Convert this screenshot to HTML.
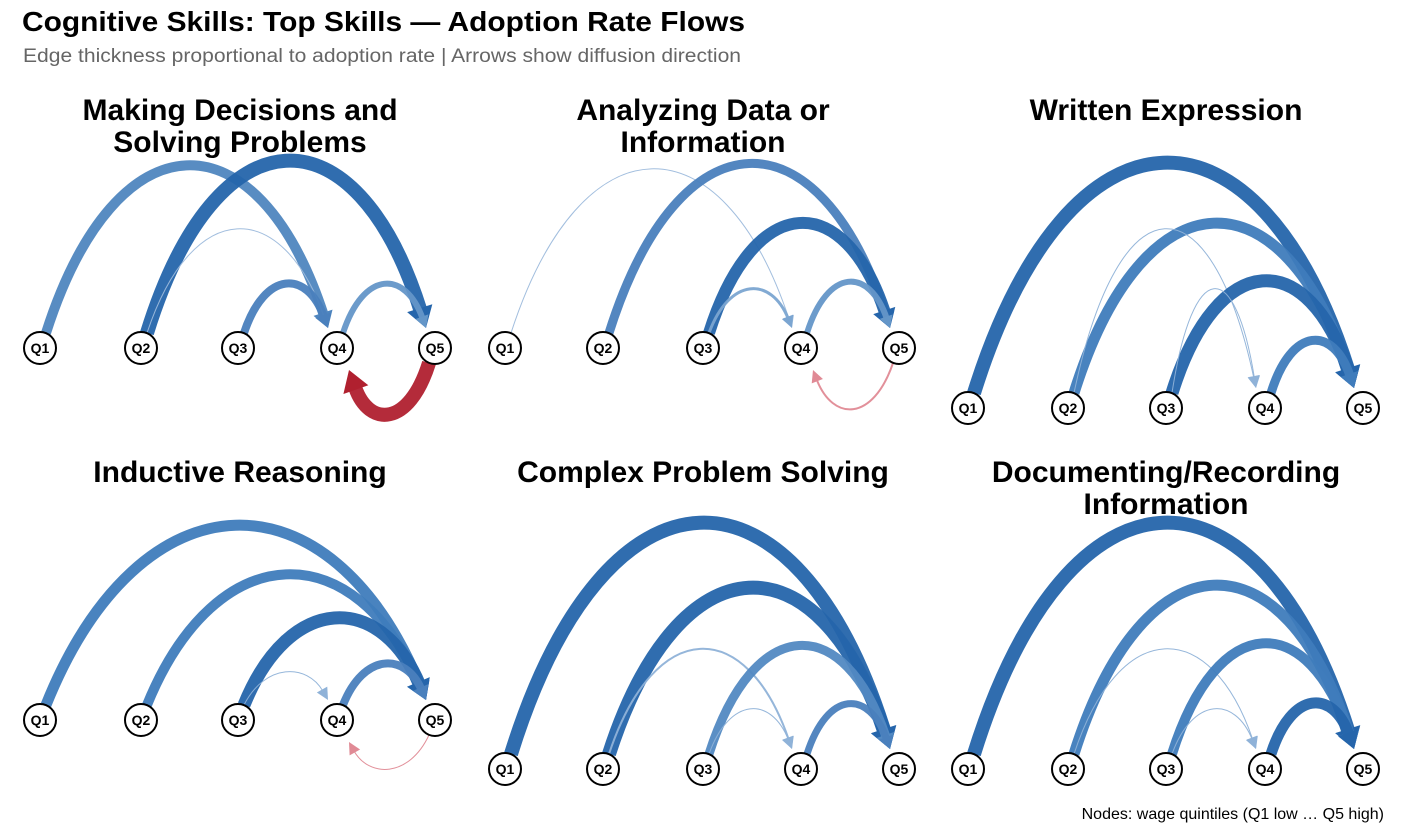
<!DOCTYPE html>
<html><head><meta charset="utf-8"><style>
body{margin:0;background:#fff;width:1408px;height:831px;overflow:hidden;font-family:"Liberation Sans",sans-serif}
</style></head><body>
<svg id="s" width="1408" height="831" xmlns="http://www.w3.org/2000/svg" font-family="Liberation Sans, sans-serif">
<text x="22" y="31" font-size="28" font-weight="bold" fill="#000" textLength="723" lengthAdjust="spacingAndGlyphs">Cognitive Skills: Top Skills — Adoption Rate Flows</text>
<text x="23" y="62" font-size="19" fill="#666" textLength="718" lengthAdjust="spacingAndGlyphs">Edge thickness proportional to adoption rate | Arrows show diffusion direction</text>
<g font-size="30" font-weight="bold" text-anchor="middle" fill="#000">
<text x="240" y="120">Making Decisions and</text><text x="240" y="152">Solving Problems</text>
<text x="703" y="120">Analyzing Data or</text><text x="703" y="152">Information</text>
<text x="1166" y="120">Written Expression</text>
<text x="240" y="482">Inductive Reasoning</text>
<text x="703" y="482">Complex Problem Solving</text>
<text x="1166" y="482">Documenting/Recording</text><text x="1166" y="514">Information</text>
</g>
<text x="1384" y="819" font-size="16" text-anchor="end" fill="#000">Nodes: wage quintiles (Q1 low … Q5 high)</text>
<g id="edges"></g><g id="nodes"></g>
</svg>
<script>
const X1=[40,141,238,337,435],X2=[505,603,703,801,899],X3=[968,1068,1166,1265,1363];
const P=[
 {xs:X1,y:348,e:[[1,4,10,'#4f86bf',167],[2,5,14,'#2565ab',163],[2,4,1,'#9dbbdc',230],[3,4,8,'#4a80bd',285],[4,5,6,'#6496c8',285],[5,4,14,'#b0202f',412]]},
 {xs:X2,y:348,e:[[1,4,1,'#9dbbdc',170],[2,5,9,'#4a80bd',165],[3,5,12,'#2565ab',225],[3,4,3,'#7ba5d1',290],[4,5,6,'#6496c8',283],[5,4,2,'#e08a95',408]]},
 {xs:X3,y:408,e:[[1,5,14,'#2565ab',165],[2,5,11,'#3f7cbc',225],[2,4,1,'#8fb2d8',230],[3,5,13,'#2565ab',283],[3,4,1,'#8fb2d8',290],[4,5,9,'#3f7cbc',342]]},
 {xs:X1,y:720,e:[[1,5,11,'#3f7cbc',527],[2,5,10,'#3f7cbc',576],[3,5,13,'#2565ab',620],[3,4,1,'#8fb2d8',673],[4,5,8,'#4a80bd',665],[5,4,1,'#e08a95',768]]},
 {xs:X2,y:769,e:[[1,5,14,'#2565ab',525],[2,5,14,'#2565ab',590],[2,4,2,'#8fb2d8',650],[3,5,9,'#5289c2',647],[3,4,1,'#8fb2d8',710],[4,5,7,'#4a80bd',705]]},
 {xs:X3,y:769,e:[[1,5,14,'#2565ab',525],[2,5,11,'#3f7cbc',587],[2,4,1,'#8fb2d8',650],[3,5,10,'#3f7cbc',645],[3,4,1,'#8fb2d8',710],[4,5,11,'#2565ab',705]]}
];
const NS='http://www.w3.org/2000/svg';let eg=document.getElementById('edges'),ng=document.getElementById('nodes');
function el(t,a,p){let e=document.createElementNS(NS,t);for(let k in a)e.setAttribute(k,a[k]);p.appendChild(e);return e;}
P.forEach(p=>{
 p.e.forEach(([a,b,w,c,pk])=>{
  let x1=p.xs[a-1],x2=p.xs[b-1],y=p.y,S,E;
  if(a<b){S=[x1+6,y-15];E=[x2-9,y-20];}else{S=[x1-6,y+15];E=[x2+12,y+22];}
  let y0=(S[1]+E[1])/2,yc=y0+(pk-y0)/0.75;
  let dx=(E[0]-S[0])*0.25;
  let C1=[S[0]+dx,yc],C2=[E[0]-dx,yc];
  let al=Math.max(8,w*1.2)+4,aw=Math.max(4,w*0.8)+2;
  let tx=E[0]-C2[0],ty=E[1]-C2[1],L=Math.hypot(tx,ty);tx/=L;ty/=L;
  let B=[E[0]-tx*al,E[1]-ty*al];
  el('path',{d:`M${S[0]},${S[1]} C${C1[0]},${C1[1]} ${C2[0]},${C2[1]} ${B[0]+tx*2},${B[1]+ty*2}`,fill:'none',stroke:c,'stroke-width':w,'stroke-opacity':0.95},eg);
  let nx=-ty,ny=tx;
  el('polygon',{points:`${E[0]},${E[1]} ${B[0]+nx*aw},${B[1]+ny*aw} ${B[0]-nx*aw},${B[1]-ny*aw}`,fill:c},eg);
 });
 p.xs.forEach((x,i)=>{el('circle',{cx:x,cy:p.y,r:16,fill:'#fff',stroke:'#000','stroke-width':2},ng);
  let t=el('text',{x:x,y:p.y+5,'text-anchor':'middle','font-size':14,'font-weight':'bold'},ng);t.textContent='Q'+(i+1);});
});
</script>
</body></html>
